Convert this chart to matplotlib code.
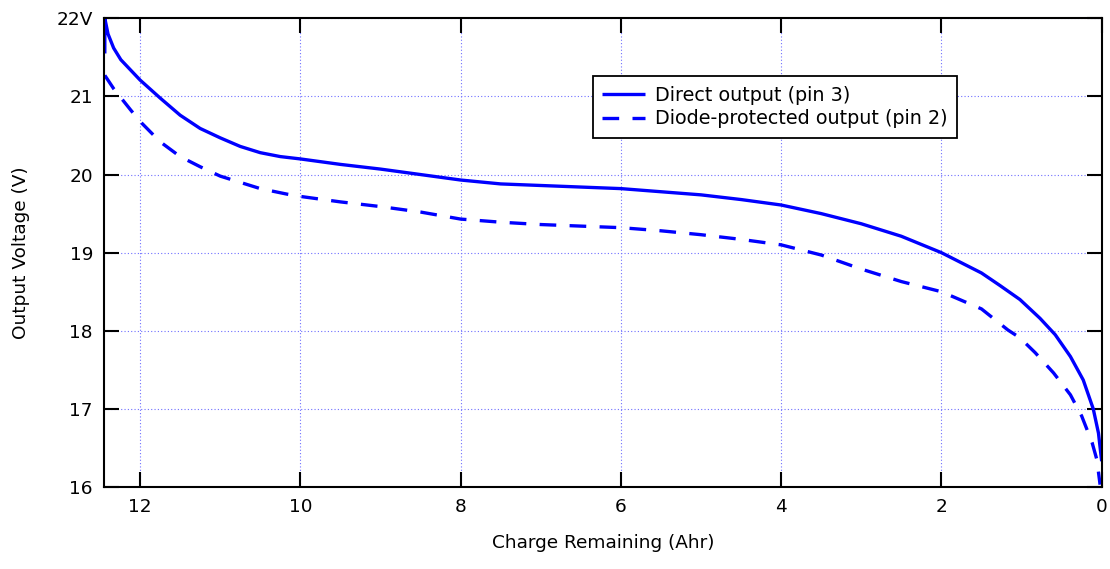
import matplotlib
matplotlib.use('Agg')
import matplotlib.pyplot as plt

# direct output (pin 3)
direct_x = [12.44, 12.44, 12.4, 12.33, 12.24, 12.0, 11.75, 11.5, 11.25, 11.0, 10.75, 10.5,
            10.25, 10.0, 9.5, 9.0, 8.5, 8.0, 7.5, 7.0, 6.5, 6.0, 5.5, 5.0, 4.5, 4.0, 3.5,
            3.0, 2.5, 2.0, 1.75, 1.5, 1.27, 1.02, 0.77, 0.58, 0.39, 0.23, 0.105, 0.04, 0.0]
direct_v = [21.55, 22.0, 21.8, 21.62, 21.47, 21.21, 20.98, 20.76, 20.59, 20.47, 20.36, 20.28,
            20.23, 20.2, 20.13, 20.07, 20.0, 19.93, 19.88, 19.86, 19.84, 19.82, 19.78, 19.74,
            19.68, 19.61, 19.5, 19.37, 19.21, 19.0, 18.87, 18.74, 18.58, 18.4, 18.16, 17.95,
            17.67, 17.37, 17.0, 16.69, 16.33]

# diode-protected output (pin 2)
diode_x = [12.44, 12.33, 12.12, 12.0, 11.75, 11.5, 11.25, 11.0, 10.75, 10.5, 10.17, 10.0,
           9.5, 9.0, 8.5, 8.0, 7.5, 7.0, 6.5, 6.0, 5.5, 5.0, 4.5, 4.0, 3.5, 3.0, 2.5, 2.0,
           1.5, 1.17, 1.02, 0.83, 0.6, 0.39, 0.25, 0.12, 0.06, 0.02]
diode_v = [21.27, 21.1, 20.83, 20.68, 20.42, 20.23, 20.1, 19.98, 19.9, 19.82, 19.75, 19.72,
           19.65, 19.59, 19.52, 19.43, 19.39, 19.36, 19.34, 19.32, 19.28, 19.23, 19.17, 19.1,
           18.97, 18.79, 18.63, 18.5, 18.28, 18.01, 17.91, 17.72, 17.46, 17.18, 16.91, 16.57,
           16.35, 16.03]

x_ticks = [12, 10, 8, 6, 4, 2, 0]
y_ticks = [16, 17, 18, 19, 20, 21, 22]
y_labels = ['16', '17', '18', '19', '20', '21', '22V']

plt.rcParams['font.family'] = ['DejaVu Sans']
fs = 13.3
fig = plt.figure(figsize=(11.1, 5.69), dpi=100)
ax = fig.add_axes([0.0937, 0.1441, 0.8988, 0.8237])

ax.plot(direct_x, direct_v, color='#0000ff', lw=2.4, label='Direct output (pin 3)',
        solid_capstyle='butt', solid_joinstyle='round')
ax.plot(diode_x, diode_v, color='#0000ff', lw=2.4, dashes=(5, 4),
        label='Diode-protected output (pin 2)')

ax.set_xlim(12.45, 0)
ax.set_ylim(16, 22)
ax.set_xticks(x_ticks)
ax.set_yticks(y_ticks)
ax.set_yticklabels(y_labels)
ax.grid(True, color='#7070ff', linestyle=(0, (1, 2)), lw=0.8)

ax.tick_params(direction='in', length=10.5, width=1.5, top=True, right=True,
               labelsize=fs, pad=8)
for s in ax.spines.values():
    s.set_linewidth(1.5)

ax.set_xlabel('Charge Remaining (Ahr)', fontsize=fs, labelpad=13)
ax.set_ylabel('Output Voltage (V)', fontsize=fs, labelpad=19)

leg = ax.legend(loc='upper left', bbox_to_anchor=(0.49, 0.877), borderaxespad=0,
                fontsize=13.8, fancybox=False, framealpha=1, edgecolor='black',
                handlelength=2.2, labelspacing=0.25, borderpad=0.5, handletextpad=0.55)
leg.get_frame().set_linewidth(1.3)

fig.savefig('out.png', dpi=100)
